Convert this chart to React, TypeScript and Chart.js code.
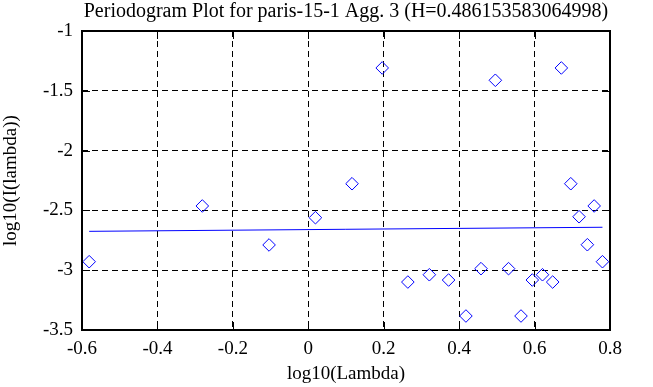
import React, { useEffect, useRef } from "react";
import { Chart, registerables } from "chart.js";

Chart.register(...registerables);

const titleText = "Periodogram Plot for paris-15-1 Agg. 3 (H=0.486153583064998)";
const xAxisTitle = "log10(Lambda)";
const yAxisTitle = "log10(I(lambda))";

const pointX = [
  -0.581, -0.281, -0.104, 0.019, 0.116, 0.196, 0.264, 0.321, 0.372, 0.418, 0.458, 0.496,
  0.531, 0.564, 0.594, 0.621, 0.648, 0.671, 0.696, 0.718, 0.74, 0.758, 0.78,
];
const pointY = [
  -2.929, -2.463, -2.789, -2.561, -2.277, -1.309, -3.099, -3.038, -3.082, -3.383, -2.987, -1.412,
  -2.987, -3.383, -3.082, -3.038, -3.099, -1.309, -2.277, -2.553, -2.787, -2.463, -2.929,
];
const fitX = [-0.581, 0.78];
const fitY = [-2.675, -2.641];

const xTicks = [-0.6, -0.4, -0.2, 0, 0.2, 0.4, 0.6, 0.8];
const yTicks = [-3.5, -3, -2.5, -2, -1.5, -1];

const FONT = "'Liberation Serif', 'Times New Roman', serif";

const frame = {
  id: "frame",
  afterDraw(chart: any) {
    const { ctx, chartArea: a, scales } = chart;
    ctx.save();
    ctx.strokeStyle = "#000";
    ctx.lineWidth = 1;
    ctx.setLineDash([]);
    const L = 8;
    ctx.beginPath();
    xTicks.forEach((v) => {
      const px = Math.round(scales.x.getPixelForValue(v)) + 0.5;
      ctx.moveTo(px, a.bottom);
      ctx.lineTo(px, a.bottom - L);
      ctx.moveTo(px, a.top);
      ctx.lineTo(px, a.top + L);
    });
    yTicks.forEach((v) => {
      const py = Math.round(scales.y.getPixelForValue(v)) + 0.5;
      ctx.moveTo(a.left, py);
      ctx.lineTo(a.left + L, py);
      ctx.moveTo(a.right, py);
      ctx.lineTo(a.right - L, py);
    });
    ctx.stroke();
    ctx.lineWidth = 2;
    ctx.strokeRect(a.left, a.top, a.right - a.left, a.bottom - a.top);
    // title centred over the plot area
    ctx.fillStyle = "#000";
    ctx.font = "20px " + FONT;
    ctx.textAlign = "center";
    ctx.textBaseline = "alphabetic";
    ctx.fillText(titleText, (a.left + a.right) / 2, 17);
    ctx.restore();
  },
};

export default function App() {
  const ref = useRef<HTMLCanvasElement | null>(null);
  useEffect(() => {
    if (!ref.current) return;
    const chart = new Chart(ref.current, {
      type: "scatter",
      data: {
        datasets: [
          {
            label: "fit",
            type: "line",
            data: fitX.map((x, i) => ({ x, y: fitY[i] })),
            borderColor: "#0000ff",
            borderWidth: 1,
            pointRadius: 0,
            fill: false,
          },
          {
            label: "periodogram",
            data: pointX.map((x, i) => ({ x, y: pointY[i] })),
            pointStyle: "rectRot",
            pointRadius: 6.3,
            borderColor: "#0000ff",
            backgroundColor: "rgba(0,0,0,0)",
            borderWidth: 1,
          },
        ],
      },
      options: {
        animation: false,
        responsive: true,
        maintainAspectRatio: false,
        layout: { padding: { top: 31, right: 43, left: 0, bottom: 0 } },
        plugins: {
          legend: { display: false },
          tooltip: { enabled: false },
          title: { display: false },
        },
        scales: {
          x: {
            type: "linear",
            min: -0.6,
            max: 0.8,
            afterFit: (s: any) => {
              s.height = 57;
            },
            afterBuildTicks: (s: any) => {
              s.ticks = xTicks.map((v) => ({ value: v }));
            },
            ticks: {
              color: "#000",
              font: { family: FONT, size: 19 },
              padding: 8,
              maxRotation: 0,
              callback: (v: any) => String(Math.round(Number(v) * 10) / 10),
            },
            grid: {
              color: "#000",
              lineWidth: 1,
              drawTicks: false,
              tickLength: 0,
            },
            border: { display: false, dash: [6, 4] },
            title: {
              display: true,
              text: xAxisTitle,
              color: "#000",
              font: { family: FONT, size: 19 },
              padding: { top: 0, bottom: 2 },
            },
          },
          y: {
            type: "linear",
            min: -3.5,
            max: -1,
            afterFit: (s: any) => {
              s.width = 82;
            },
            afterBuildTicks: (s: any) => {
              s.ticks = yTicks.map((v) => ({ value: v }));
            },
            ticks: {
              color: "#000",
              font: { family: FONT, size: 19 },
              padding: 9,
              callback: (v: any) => String(Math.round(Number(v) * 10) / 10),
            },
            grid: {
              color: "#000",
              lineWidth: 1,
              drawTicks: false,
              tickLength: 0,
            },
            border: { display: false, dash: [6, 4] },
            title: {
              display: true,
              text: yAxisTitle,
              color: "#000",
              font: { family: FONT, size: 19 },
              padding: { top: 0, bottom: 0 },
            },
          },
        },
      },
      plugins: [frame],
    } as any);
    return () => chart.destroy();
  }, []);
  return (
    <div style={{ position: "fixed", left: 0, top: 0, width: 653, height: 387, background: "#fff" }}>
      <canvas ref={ref} />
    </div>
  );
}
